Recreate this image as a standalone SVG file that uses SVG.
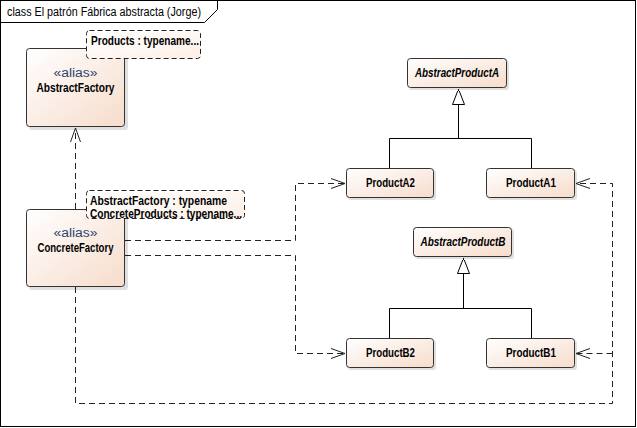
<svg xmlns="http://www.w3.org/2000/svg" width="637" height="428" viewBox="0 0 637 428">
<style>
text{font-family:"Liberation Sans",Arial,sans-serif;font-size:12px;fill:#000}
.nm{font-weight:bold;text-anchor:middle}
.it{font-weight:bold;font-style:italic;text-anchor:middle}
.st{text-anchor:middle;fill:#2e4470;font-size:12px}
.nt{font-weight:bold}
.box{fill:url(#g);stroke:#333;stroke-width:1}
.note{fill:url(#gn);stroke:#222;stroke-width:1;stroke-dasharray:5,3}
.dep{fill:none;stroke:#222;stroke-width:1;stroke-dasharray:6,4}
.sol{fill:none;stroke:#000;stroke-width:1}
.sh{fill:#000;opacity:0.12}
</style>
<defs>
<linearGradient id="g" x1="0" y1="0" x2="1" y2="1">
<stop offset="0" stop-color="#ffffff"/>
<stop offset="1" stop-color="#f7dccb"/>
</linearGradient>
<linearGradient id="gn" x1="0" y1="0" x2="1" y2="1">
<stop offset="0" stop-color="#ffffff"/>
<stop offset="1" stop-color="#fdf0e7"/>
</linearGradient>
<marker id="open" markerWidth="16" markerHeight="12" refX="14" refY="6" orient="auto" markerUnits="userSpaceOnUse">
<path d="M0,1 L14,6 L0,11" fill="none" stroke="#222" stroke-width="1"/>
</marker>
<marker id="tri" markerWidth="14" markerHeight="18" refX="16" refY="6.5" orient="auto" markerUnits="userSpaceOnUse">
<path d="M0.5,0.5 L16,6.5 L0.5,12.5 Z" fill="#fff" stroke="#000" stroke-width="1"/>
</marker>
</defs>
<rect width="637" height="428" fill="#fff"/>
<g id="frame">
<rect x="0.5" y="0.5" width="635" height="426" fill="none" stroke="#000"/>
<path d="M0.5,22.5 H204.5 L217.5,9.5 V0.5" fill="none" stroke="#000"/>
<text x="7" y="16" textLength="194" lengthAdjust="spacingAndGlyphs">class El patrón Fábrica abstracta (Jorge)</text>
</g>
<g id="connectors">
<path class="dep" d="M75.5,209 V128" marker-end="url(#open)"/>
<path class="dep" d="M125,240.5 H295.5 V183.5 H345" marker-end="url(#open)"/>
<path class="dep" d="M125,255.5 H295.5 V353.5 H345" marker-end="url(#open)"/>
<path class="dep" d="M75.5,287 V403.5 H612.5 V183.5 H576" marker-end="url(#open)"/>
<path class="dep" d="M612.5,353.5 H576" marker-end="url(#open)"/>
<path class="sol" d="M389.5,168 V138.5 H531.5 V168 M458.5,138.5 V89" marker-end="url(#tri)"/>
<path class="sol" d="M389.5,338 V308.5 H531.5 V338 M463.5,308.5 V258" marker-end="url(#tri)"/>
</g>
<g id="AbstractFactory">
<rect class="sh" x="29" y="51" width="99" height="79" rx="3"/>
<rect class="box" x="26.5" y="48.5" width="98" height="78" rx="3"/>
<text class="st" x="75.5" y="77" textLength="44" lengthAdjust="spacingAndGlyphs">«alias»</text>
<text class="nm" x="75.5" y="92" textLength="78" lengthAdjust="spacingAndGlyphs">AbstractFactory</text>
</g>
<g id="AbstractFactoryParams">
<rect class="note" x="86.5" y="30.5" width="114" height="28" rx="3"/>
<text class="nt" x="91" y="45" textLength="108" lengthAdjust="spacingAndGlyphs">Products : typename...</text>
</g>
<g id="ConcreteFactory">
<rect class="sh" x="29" y="212" width="99" height="78" rx="3"/>
<rect class="box" x="26.5" y="209.5" width="98" height="77" rx="3"/>
<text class="st" x="75.5" y="237" textLength="44" lengthAdjust="spacingAndGlyphs">«alias»</text>
<text class="nm" x="75.5" y="252" textLength="76" lengthAdjust="spacingAndGlyphs">ConcreteFactory</text>
</g>
<g id="ConcreteFactoryParams">
<rect class="note" x="86.5" y="190.5" width="158" height="28" rx="3"/>
<text class="nt" x="90" y="204.5" textLength="137" lengthAdjust="spacingAndGlyphs">AbstractFactory : typename</text>
<text class="nt" x="90" y="218" textLength="152" lengthAdjust="spacingAndGlyphs">ConcreteProducts : typename...</text>
</g>
<g id="AbstractProductA">
<rect class="sh" x="409" y="60" width="100" height="30" rx="3"/>
<rect class="box" x="407.5" y="58.5" width="99" height="29" rx="3"/>
<text class="it" x="457" y="77" textLength="84" lengthAdjust="spacingAndGlyphs">AbstractProductA</text>
</g>
<g id="ProductA2">
<rect class="sh" x="348" y="170" width="88" height="30" rx="3"/>
<rect class="box" x="346.5" y="168.5" width="87" height="29" rx="3"/>
<text class="nm" x="390.5" y="187" textLength="49" lengthAdjust="spacingAndGlyphs">ProductA2</text>
</g>
<g id="ProductA1">
<rect class="sh" x="488" y="170" width="89" height="30" rx="3"/>
<rect class="box" x="486.5" y="168.5" width="88" height="29" rx="3"/>
<text class="nm" x="531" y="187" textLength="50" lengthAdjust="spacingAndGlyphs">ProductA1</text>
</g>
<g id="AbstractProductB">
<rect class="sh" x="415" y="229" width="99" height="30" rx="3"/>
<rect class="box" x="413.5" y="227.5" width="98" height="29" rx="3"/>
<text class="it" x="463" y="246" textLength="85" lengthAdjust="spacingAndGlyphs">AbstractProductB</text>
</g>
<g id="ProductB2">
<rect class="sh" x="348" y="340" width="88" height="30" rx="3"/>
<rect class="box" x="346.5" y="338.5" width="87" height="29" rx="3"/>
<text class="nm" x="390.5" y="357" textLength="49" lengthAdjust="spacingAndGlyphs">ProductB2</text>
</g>
<g id="ProductB1">
<rect class="sh" x="488" y="340" width="89" height="30" rx="3"/>
<rect class="box" x="486.5" y="338.5" width="88" height="29" rx="3"/>
<text class="nm" x="531" y="357" textLength="50" lengthAdjust="spacingAndGlyphs">ProductB1</text>
</g>
</svg>
